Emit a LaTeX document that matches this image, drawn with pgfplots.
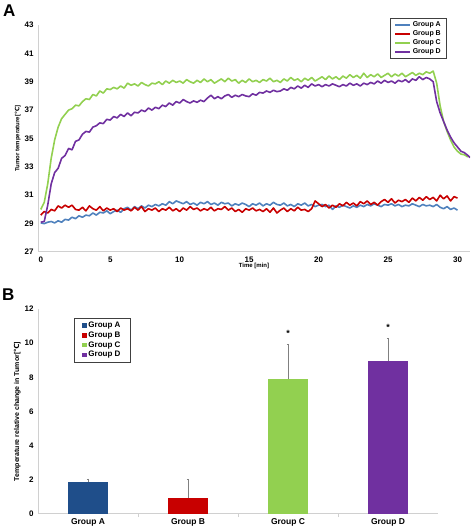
\documentclass[border=0pt]{standalone}
\usepackage{fontspec}
\setmainfont{Liberation Sans}
\newfontfamily\djv{DejaVu Sans}
\usepackage{pgfplots}
\pgfplotsset{compat=1.18}
\definecolor{cA}{HTML}{4F81BD}
\definecolor{cB}{HTML}{C80000}
\definecolor{cC}{HTML}{92D050}
\definecolor{cD}{HTML}{7030A0}
\definecolor{bA}{HTML}{1F4E8A}
\definecolor{axgray}{HTML}{D0D0D0}

\pgfplotstableread{
x y
0 29.05
0.25 29.0
0.5 29.1
0.75 29.15
1.0 29.05
1.25 29.2
1.5 29.1
1.75 29.3
2.0 29.25
2.25 29.45
2.5 29.35
2.75 29.55
3.0 29.45
3.25 29.6
3.5 29.55
3.75 29.75
4.0 29.6
4.25 29.8
4.5 29.75
4.75 29.9
5.0 29.7
5.25 29.85
5.5 29.95
5.75 29.8
6.0 30.05
6.25 30.15
6.5 29.95
6.75 30.2
7.0 30.05
7.25 30.25
7.5 30.1
7.75 30.3
8.0 30.2
8.25 30.35
8.5 30.25
8.75 30.4
9.0 30.3
9.25 30.55
9.5 30.4
9.75 30.6
10.0 30.5
10.25 30.4
10.5 30.55
10.75 30.35
11.0 30.45
11.25 30.3
11.5 30.5
11.75 30.4
12.0 30.55
12.25 30.35
12.5 30.45
12.75 30.3
13.0 30.5
13.25 30.4
13.5 30.45
13.75 30.25
14.0 30.4
14.25 30.3
14.5 30.45
14.75 30.35
15.0 30.2
15.25 30.4
15.5 30.3
15.75 30.45
16.0 30.25
16.25 30.4
16.5 30.3
16.75 30.5
17.0 30.35
17.25 30.3
17.5 30.45
17.75 30.25
18.0 30.35
18.25 30.2
18.5 30.4
18.75 30.3
19.0 30.45
19.25 30.25
19.5 30.35
19.75 30.2
20.0 30.3
20.25 30.35
20.5 30.2
20.75 30.3
21.0 30.0
21.25 30.25
21.5 30.15
21.75 30.3
22.0 30.2
22.25 30.1
22.5 30.25
22.75 30.15
23.0 30.3
23.25 30.2
23.5 30.35
23.75 30.25
24.0 30.4
24.25 30.3
24.5 30.2
24.75 30.35
25.0 30.3
25.25 30.4
25.5 30.25
25.75 30.35
26.0 30.2
26.25 30.3
26.5 30.25
26.75 30.4
27.0 30.3
27.25 30.2
27.5 30.35
27.75 30.25
28.0 30.3
28.25 30.2
28.5 30.35
28.75 30.15
29.0 30.05
29.25 30.2
29.5 30.0
29.75 30.1
30.0 29.95
}\tabA

\pgfplotstableread{
x y
0 29.6
0.25 29.85
0.5 29.75
0.75 30.0
1.0 29.9
1.25 30.25
1.5 30.1
1.75 30.3
2.0 30.15
2.25 30.3
2.5 30.0
2.75 29.95
3.0 30.15
3.25 29.9
3.5 30.25
3.75 30.05
4.0 29.95
4.25 30.2
4.5 29.9
4.75 30.1
5.0 29.95
5.25 30.05
5.5 29.85
5.75 30.1
6.0 29.95
6.25 30.05
6.5 29.9
6.75 30.15
7.0 29.95
7.25 30.2
7.5 29.85
7.75 30.05
8.0 29.95
8.25 30.1
8.5 29.85
8.75 30.05
9.0 29.95
9.25 30.15
9.5 29.9
9.75 30.05
10.0 29.85
10.25 30.1
10.5 29.95
10.75 30.2
11.0 30.0
11.25 30.1
11.5 29.9
11.75 30.05
12.0 29.95
12.25 30.15
12.5 29.9
12.75 30.05
13.0 30.0
13.25 30.2
13.5 29.95
13.75 30.1
14.0 29.85
14.25 30.0
14.5 29.8
14.75 30.05
15.0 29.95
15.25 30.1
15.5 29.9
15.75 30.0
16.0 29.85
16.25 30.05
16.5 29.8
16.75 30.1
17.0 29.75
17.25 29.95
17.5 30.1
17.75 29.85
18.0 30.05
18.25 29.9
18.5 30.15
18.75 29.95
19.0 30.0
19.25 29.85
19.5 30.05
19.75 30.6
20.0 30.4
20.25 30.2
20.5 30.35
20.75 30.1
21.0 30.3
21.25 30.15
21.5 30.4
21.75 30.25
22.0 30.5
22.25 30.3
22.5 30.45
22.75 30.25
23.0 30.55
23.25 30.4
23.5 30.6
23.75 30.35
24.0 30.5
24.25 30.3
24.5 30.55
24.75 30.7
25.0 30.5
25.25 30.75
25.5 30.45
25.75 30.65
26.0 30.55
26.25 30.7
26.5 30.5
26.75 30.8
27.0 30.6
27.25 30.85
27.5 30.65
27.75 30.9
28.0 30.7
28.25 30.85
28.5 30.6
28.75 31.0
29.0 30.75
29.25 30.95
29.5 30.6
29.75 30.9
30.0 30.8
}\tabB

\pgfplotstableread{
x y
0 30.0
0.25 30.5
0.5 31.8
0.75 33.6
1.0 34.9
1.25 35.8
1.5 36.4
1.75 36.7
2.0 37.0
2.25 37.1
2.5 37.35
2.75 37.3
3.0 37.6
3.25 37.8
3.5 37.75
3.75 38.1
4.0 38.0
4.25 38.35
4.5 38.2
4.75 38.5
5.0 38.45
5.25 38.6
5.5 38.5
5.75 38.7
6.0 38.55
6.25 38.9
6.5 38.75
6.75 38.85
7.0 38.7
7.25 38.95
7.5 38.8
7.75 38.7
8.0 38.9
8.25 38.85
8.5 39.0
8.75 38.8
9.0 39.05
9.25 38.9
9.5 39.1
9.75 38.95
10.0 39.05
10.25 38.9
10.5 39.15
10.75 39.0
11.0 38.9
11.25 39.1
11.5 38.95
11.75 39.2
12.0 39.0
12.25 39.15
12.5 38.9
12.75 39.05
13.0 39.2
13.25 39.0
13.5 39.25
13.75 39.05
14.0 39.15
14.25 38.9
14.5 39.1
14.75 38.95
15.0 39.2
15.25 39.0
15.5 39.1
15.75 38.95
16.0 39.15
16.25 39.05
16.5 39.25
16.75 39.0
17.0 39.1
17.25 38.95
17.5 39.2
17.75 39.05
18.0 39.3
18.25 39.1
18.5 39.2
18.75 39.0
19.0 39.25
19.25 39.1
19.5 39.3
19.75 39.05
20.0 39.2
20.25 39.35
20.5 39.15
20.75 39.4
21.0 39.2
21.25 39.35
21.5 39.15
21.75 39.4
22.0 39.25
22.25 39.5
22.5 39.3
22.75 39.45
23.0 39.25
23.25 39.6
23.5 39.3
23.75 39.5
24.0 39.35
24.25 39.55
24.5 39.3
24.75 39.45
25.0 39.6
25.25 39.35
25.5 39.55
25.75 39.4
26.0 39.6
26.25 39.35
26.5 39.5
26.75 39.65
27.0 39.45
27.25 39.6
27.5 39.5
27.75 39.7
28.0 39.6
28.25 39.75
28.5 38.9
28.75 37.3
29.0 36.2
29.25 35.5
29.5 34.9
29.75 34.4
30.0 34.1
30.25 33.9
30.5 33.85
30.75 33.7
}\tabC

\pgfplotstableread{
x y
0 29.1
0.25 29.15
0.5 30.3
0.75 31.8
1.0 32.6
1.25 32.9
1.5 33.6
1.75 33.8
2.0 34.3
2.25 34.2
2.5 34.8
2.75 34.9
3.0 35.3
3.25 35.5
3.5 35.45
3.75 35.8
4.0 35.9
4.25 36.1
4.5 36.05
4.75 36.35
5.0 36.3
5.25 36.55
5.5 36.45
5.75 36.7
6.0 36.55
6.25 36.8
6.5 36.6
6.75 36.85
7.0 36.8
7.25 37.0
7.5 36.9
7.75 37.15
8.0 37.0
8.25 37.2
8.5 37.1
8.75 37.35
9.0 37.25
9.25 37.5
9.5 37.35
9.75 37.6
10.0 37.5
10.25 37.75
10.5 37.6
10.75 37.5
11.0 37.65
11.25 37.55
11.5 37.7
11.75 37.6
12.0 37.85
12.25 38.05
12.5 37.8
12.75 37.95
13.0 37.8
13.25 38.0
13.5 38.1
13.75 37.9
14.0 38.05
14.25 37.95
14.5 38.1
14.75 38.0
15.0 37.95
15.25 38.15
15.5 38.05
15.75 38.25
16.0 38.2
16.25 38.35
16.5 38.25
16.75 38.4
17.0 38.3
17.25 38.35
17.5 38.5
17.75 38.4
18.0 38.6
18.25 38.5
18.5 38.7
18.75 38.55
19.0 38.75
19.25 38.6
19.5 38.85
19.75 38.7
20.0 38.8
20.25 38.65
20.5 38.8
20.75 38.7
21.0 38.85
21.25 38.75
21.5 38.65
21.75 38.8
22.0 38.7
22.25 38.9
22.5 38.75
22.75 38.85
23.0 38.7
23.25 38.9
23.5 38.8
23.75 38.95
24.0 38.85
24.25 39.05
24.5 38.9
24.75 39.1
25.0 38.95
25.25 39.05
25.5 38.9
25.75 39.1
26.0 39.0
26.25 39.15
26.5 38.95
26.75 39.2
27.0 39.1
27.25 39.35
27.5 39.15
27.75 39.3
28.0 39.2
28.25 39.0
28.5 37.6
28.75 36.8
29.0 36.2
29.25 35.6
29.5 35.1
29.75 34.7
30.0 34.4
30.25 34.1
30.5 34.0
30.75 33.8
30.9 33.65
}\tabD

\begin{document}
\begin{tikzpicture}
\useasboundingbox (0,0) rectangle (472pt,529pt);
\node[anchor=north west, inner sep=0pt] at (3pt,524pt) {\fontsize{17}{17}\selectfont\bfseries A};
\node[anchor=north west, inner sep=0pt] at (2pt,240pt) {\fontsize{17}{17}\selectfont\bfseries B};

\begin{axis}[
  at={(38pt,277pt)}, anchor=south west, scale only axis,
  width=432pt, height=227pt,
  xmin=-0.2, xmax=30.9, ymin=27, ymax=43,
  xtick={0,5,...,30}, ytick={27,29,...,43},
  axis x line*=bottom, axis y line*=left,
  axis line style={draw=axgray, line width=1pt},
  major tick length=0pt,
  /pgf/number format/assume math mode=true,
  tick label style={font=\fontsize{8}{9}\selectfont\bfseries},
  xticklabel style={yshift=-1pt},
  yticklabel style={xshift=-1pt},
  xlabel={Time [min]},
  ylabel={Tumor temperature[{\djv ℃}]},
  label style={font=\fontsize{6}{7}\selectfont\bfseries},
  xlabel style={yshift=6pt},
  ylabel style={yshift=-3pt},
  legend cell align=left,
  legend style={at={(0.815,1.031)}, anchor=north west,
    draw=black!75, line width=0.6pt,
    font=\fontsize{7}{8}\selectfont\bfseries,
    row sep=-0.5pt, inner xsep=4pt, inner ysep=1.5pt,
    nodes={inner sep=1.6pt}},
  legend image code/.code={\draw[#1, line width=2pt] (0cm,0cm) -- (0.52cm,0cm);},
  every axis plot/.append style={line width=1.6pt, line join=round},
]
\addplot[cA] table {\tabA};
\addplot[cB] table {\tabB};
\addplot[cC] table {\tabC};
\addplot[cD] table {\tabD};
\legend{Group A, Group B, Group C, Group D}
\end{axis}

\begin{axis}[
  at={(38pt,15pt)}, anchor=south west, scale only axis,
  width=400pt, height=205pt,
  xmin=-0.5, xmax=3.5, ymin=0, ymax=12,
  xtick={0,1,2,3}, xticklabels={Group A, Group B, Group C, Group D},
  ytick={0,2,...,12},
  extra x ticks={0.5,1.5,2.5}, extra x tick labels={},
  extra x tick style={major tick length=3pt, tick align=outside, tick style={draw=axgray, line width=0.8pt}},
  axis x line*=bottom, axis y line*=left,
  axis line style={draw=axgray, line width=1pt},
  major tick length=0pt,
  /pgf/number format/assume math mode=true,
  tick label style={font=\fontsize{8}{9}\selectfont\bfseries},
  xticklabel style={yshift=-1pt, font=\fontsize{8.5}{9}\selectfont\bfseries},
  yticklabel style={xshift=-1pt},
  ylabel={Temperature relative change in Tumor[{\djv ℃}]},
  label style={font=\fontsize{7}{8}\selectfont\bfseries},
  ylabel style={yshift=-3pt},
  ybar, bar width=40pt,
  legend cell align=left,
  legend style={at={(0.09,0.956)}, anchor=north west,
    draw=black!75, line width=0.6pt,
    font=\fontsize{8}{9}\selectfont\bfseries,
    row sep=-0.5pt, inner xsep=8pt, inner ysep=2pt,
    nodes={inner sep=1.6pt}},
  legend image code/.code={\fill[#1] (0cm,-0.08cm) rectangle (0.16cm,0.08cm);},
  error bars/y dir=plus, error bars/y explicit,
  error bars/error bar style={draw=gray, line width=0.7pt},
  error bars/error mark options={draw=gray, rotate=90, mark size=1.2pt, line width=0.7pt},
]
\addplot[fill=bA, draw=none, bar shift=0pt] coordinates {(0,1.87) +- (0,0.18)};
\addplot[fill=cB, draw=none, bar shift=0pt] coordinates {(1,0.95) +- (0,1.05)};
\addplot[fill=cC, draw=none, bar shift=0pt] coordinates {(2,7.9) +- (0,2.04)};
\addplot[fill=cD, draw=none, bar shift=0pt] coordinates {(3,8.95) +- (0,1.35)};
\legend{Group A, Group B, Group C, Group D}
\node[font=\fontsize{9}{9}\selectfont\bfseries] at (axis cs:2,10.55) {*};
\node[font=\fontsize{9}{9}\selectfont\bfseries] at (axis cs:3,10.9) {*};
\end{axis}
\end{tikzpicture}
\end{document}
